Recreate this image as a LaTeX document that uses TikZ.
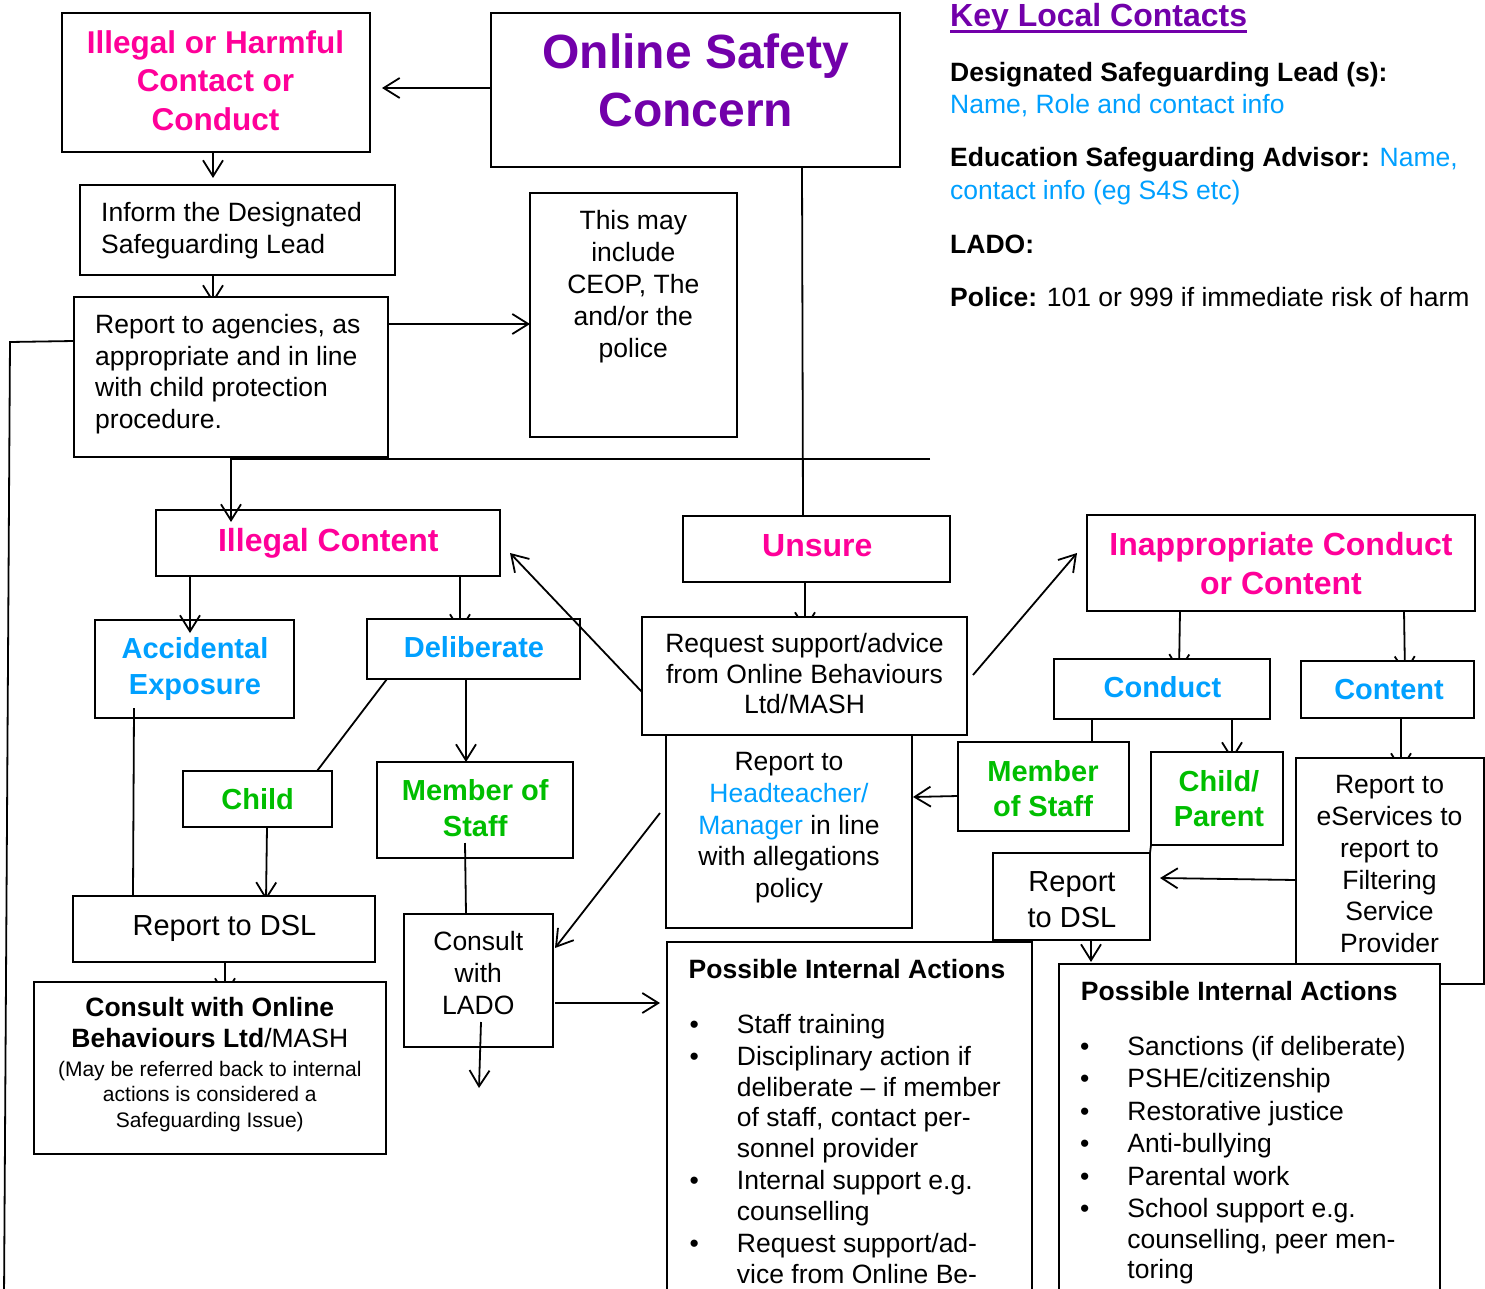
\documentclass[tikz,border=0pt]{standalone}
\usepackage{fontspec}
\setmainfont{Liberation Sans}
\usetikzlibrary{arrows.meta,calc}
\definecolor{pinkc}{RGB}{255,0,153}
\definecolor{purplec}{RGB}{114,0,170}
\definecolor{bluec}{RGB}{0,160,255}
\definecolor{greenc}{RGB}{0,190,0}
\pgfdeclarelayer{back}
\pgfdeclarelayer{bg}
\pgfsetlayers{back,bg,main}
\newcommand{\MLc}[1]{\begin{tabular}[t]{@{}c@{}}#1\end{tabular}}
\newcommand{\MLl}[1]{\begin{tabular}[t]{@{}l@{}}#1\end{tabular}}
\newcommand{\FS}[2]{\fontsize{#1}{#2}\selectfont}
\tikzset{
  box/.style={draw, line width=2.2pt, fill=white, inner sep=0pt, outer sep=0pt},
  txt/.style={inner sep=0pt, anchor=base},
  txtl/.style={inner sep=0pt, anchor=base west},
  conn/.style={line width=1.8pt},
  arr/.style={conn, -{Straight Barb[length=16pt,width=20pt]}},
}
\begin{document}
\begin{tikzpicture}[x=1pt,y=-1pt]
\useasboundingbox (0,0) rectangle (1485,1289);
\begin{pgfonlayer}{back}
\fill[white] (0,0) rectangle (1485,1289);
\end{pgfonlayer}
\clip (0,0) rectangle (1485,1289);

% boxes
\node[box, minimum width=308pt, minimum height=139pt] (ihc) at (216,82.5) {};
\node[box, minimum width=409pt, minimum height=154pt] (osc) at (695.5,90) {};
\node[box, minimum width=315pt, minimum height=90pt] (inf) at (237.5,230) {};
\node[box, minimum width=314pt, minimum height=160pt] (rep) at (231,377) {};
\node[box, minimum width=207pt, minimum height=244pt] (may) at (633.5,315) {};
\node[box, minimum width=344pt, minimum height=66pt] (ilc) at (328,543) {};
\node[box, minimum width=199pt, minimum height=98pt] (acc) at (194.5,669) {};
\node[box, minimum width=213pt, minimum height=60pt] (del) at (473.5,649) {};
\node[box, minimum width=149pt, minimum height=56pt] (chd) at (257.5,799) {};
\node[box, minimum width=196pt, minimum height=96pt] (mos1) at (475,810) {};
\node[box, minimum width=302pt, minimum height=66pt] (dsl1) at (224,929) {};
\node[box, minimum width=352pt, minimum height=172pt] (cob) at (210,1068) {};
\node[box, minimum width=149pt, minimum height=133pt] (lado) at (478.5,980.5) {};
\node[box, minimum width=267pt, minimum height=66pt] (uns) at (816.5,549) {};
\node[box, minimum width=325pt, minimum height=118pt] (req) at (804.5,676) {};
\node[box, minimum width=388pt, minimum height=96pt] (inap) at (1281,563) {};
\node[box, minimum width=216pt, minimum height=60pt] (cdt) at (1162,689) {};
\node[box, minimum width=173pt, minimum height=57pt] (cnt) at (1387.5,689.5) {};
\node[box, minimum width=246pt, minimum height=193pt] (head) at (789,831.5) {};
\node[box, minimum width=171pt, minimum height=89pt] (mos2) at (1043.5,786.5) {};
\node[box, minimum width=132pt, minimum height=93pt] (cp) at (1217,798.5) {};
\node[box, minimum width=157pt, minimum height=87pt] (dsl2) at (1071.5,896.5) {};
\node[box, minimum width=188pt, minimum height=226pt] (eserv) at (1390,871) {};
\node[box, minimum width=365pt, minimum height=378pt] (pia1) at (849.5,1131) {};
\node[box, minimum width=381pt, minimum height=356pt] (pia2) at (1249.5,1142) {};

% texts
\node[txt, text=pinkc, font=\bfseries\FS{31.5}{38.3}] (ihcT) at (215.5,53.5) {\MLc{Illegal or Harmful\\Contact or\\Conduct}};
\node[txt, text=purplec, font=\bfseries\FS{48}{58.4}] (oscT) at (695.8,68.3) {\MLc{Online Safety\\Concern}};
\node[txtl, font=\FS{26.5}{32}] (infT) at (101,221.7) {\MLl{Inform the Designated\\Safeguarding Lead}};
\node[txtl, font=\FS{26.5}{31.7}] (repT) at (95,333.3) {\MLl{Report to agencies, as\\appropriate and in line\\with child protection\\procedure.}};
\node[txt, font=\FS{26.5}{32}] (mayT) at (633.3,229.3) {\MLc{This may\\include\\CEOP, The\\and/or the\\police}};
\node[txt, text=pinkc, font=\bfseries\FS{32}{38}] (ilcT) at (328.3,551) {Illegal Content};
\node[txt, text=bluec, font=\bfseries\FS{29}{36}] (accT) at (195,658.3) {\MLc{Accidental\\Exposure}};
\node[txt, text=bluec, font=\bfseries\FS{29}{36}] (delT) at (474,657.3) {Deliberate};
\node[txt, text=greenc, font=\bfseries\FS{29}{36}] (chdT) at (257.6,809.3) {Child};
\node[txt, text=greenc, font=\bfseries\FS{29}{36}] (mos1T) at (475.2,800) {\MLc{Member of\\Staff}};
\node[txt, font=\FS{29}{35}] (dsl1T) at (224.5,935) {Report to DSL};
\node[txt, font=\FS{26.5}{31.7}] (cobT1) at (209.8,1016) {\MLc{\textbf{Consult with Online}\\\textbf{Behaviours Ltd}/MASH}};
\node[txt, font=\FS{21}{25.7}] (cobT2) at (209.8,1076) {\MLc{(May be referred back to internal\\actions is considered a\\Safeguarding Issue)}};
\node[txt, font=\FS{26.5}{32.2}] (ladoT) at (478.3,950) {\MLc{Consult\\with\\LADO}};
\node[txt, text=pinkc, font=\bfseries\FS{32}{38}] (unsT) at (817.3,556.7) {Unsure};
\node[txt, font=\FS{26.5}{30.3}] (reqT) at (804.5,652.7) {\MLc{Request support/advice\\from Online Behaviours\\Ltd/MASH}};
\node[txt, text=pinkc, font=\bfseries\FS{32}{39}] (inapT) at (1281,555) {\MLc{Inappropriate Conduct\\or Content}};
\node[txt, text=bluec, font=\bfseries\FS{29}{36}] (cdtT) at (1162.4,697.3) {Conduct};
\node[txt, text=bluec, font=\bfseries\FS{29}{36}] (cntT) at (1389,699.3) {Content};
\node[txt, font=\FS{26.5}{31.7}] (headT) at (789,770.7) {\MLc{Report to\\{\color{bluec}Headteacher/}\\{\color{bluec}Manager} in line\\with allegations\\policy}};
\node[txt, text=greenc, font=\bfseries\FS{29}{35}] (mos2T) at (1043,781.7) {\MLc{Member\\of Staff}};
\node[txt, text=greenc, font=\bfseries\FS{29}{35.7}] (cpT) at (1219,791) {\MLc{Child/\\Parent}};
\node[txt, font=\FS{29}{36}] (dsl2T) at (1072,891.7) {\MLc{Report\\to DSL}};
\node[txt, font=\FS{26.5}{31.9}] (eservT) at (1389.5,793.3) {\MLc{Report to\\eServices to\\report to\\Filtering\\Service\\Provider}};
\node[txtl, font=\bfseries\FS{26.5}{32}] (pia1H) at (688.5,978.3) {Possible Internal Actions};
\node[txtl, font=\FS{26.5}{30.5}] (pia1L) at (689.5,1033.3) {\begin{tabular}[t]{@{}l@{\hspace{38pt}}l@{}}
\textbullet & Staff training\\[2pt]
\textbullet & Disciplinary action if\\
 & deliberate \textendash{} if member\\
 & of staff, contact per-\\
 & sonnel provider\\[2pt]
\textbullet & Internal support e.g.\\
 & counselling\\[2pt]
\textbullet & Request support/ad-\\
 & vice from Online Be-
\end{tabular}};
\node[txtl, font=\bfseries\FS{26.5}{32}] (pia2H) at (1080.7,1000) {Possible Internal Actions};
\node[txtl, font=\FS{26.5}{30.5}] (pia2L) at (1080,1055) {\begin{tabular}[t]{@{}l@{\hspace{38pt}}l@{}}
\textbullet & Sanctions (if deliberate)\\[2pt]
\textbullet & PSHE/citizenship\\[2pt]
\textbullet & Restorative justice\\[2pt]
\textbullet & Anti-bullying\\[2pt]
\textbullet & Parental work\\[2pt]
\textbullet & School support e.g.\\
 & counselling, peer men-\\
 & toring
\end{tabular}};

% key local contacts
\node[txtl, text=purplec, font=\bfseries\FS{32}{38}] (kc1) at (950,27) {Key Local Contacts};
\draw[purplec, line width=3pt] ($(kc1.base west)+(0,4.5)$) -- ($(kc1.base east)+(0,4.5)$);
\node[txtl, font=\bfseries\FS{26.5}{32}] (kc2) at (950,81.7) {Designated Safeguarding Lead (s):};
\node[txtl, text=bluec, font=\FS{26.5}{32}] (kc3) at (950,113.3) {Name, Role and contact info};
\node[txtl, font=\FS{26.5}{32}] (kc4) at (950,166.7) {\textbf{Education Safeguarding Advisor:} {\color{bluec}Name,}};
\node[txtl, text=bluec, font=\FS{26.5}{32}] (kc5) at (950,199.3) {contact info (eg S4S etc)};
\node[txtl, font=\bfseries\FS{26.5}{32}] (kc6) at (950,253.3) {LADO:};
\node[txtl, font=\FS{26.5}{32}] (kc7) at (950,306) {\textbf{Police:} 101 or 999 if immediate risk of harm};

% free-end coordinates
\coordinate (lc) at (10,342);
\coordinate (lb) at (4,1300);
\coordinate (hr) at (930,459);
\coordinate (ldown) at (479,1088);

% connectors (visible)
\draw[arr] ($(osc.north west)+(0,75)$) -- ($(ihc.north east)+(12,75)$);
\draw[arr] ($(ihc.south west)+(151,0)$) -- ($(inf.north west)+(133,-7)$);
\draw[arr] ($(rep.north east)+(0,27)$) -- ($(may.north west)+(0,131)$);
\draw[conn] ($(rep.north west)+(0,44)$) -- (lc) -- (lb);
\draw[conn] ($(osc.south west)+(311,0)$) -- ($(uns.north west)+(120,0)$);
\draw[arr] (hr) -| ($(ilc.north west)+(75,12)$);
\draw[arr] ($(ilc.south west)+(34,0)$) -- ($(acc.north west)+(95,13)$);
\draw[conn] ($(del.south west)+(20,0)$) -- ($(chd.north west)+(134,0)$);
\draw[arr] ($(del.south west)+(99,0)$) -- ($(mos1.north west)+(89,0)$);
\draw[conn] ($(acc.south west)+(39,-10)$) -- ($(dsl1.north west)+(60,0)$);
\draw[conn] ($(mos1.south west)+(88,-15)$) -- ($(lado.north west)+(62,0)$);
\draw[arr] ($(lado.north west)+(77,108)$) -- (ldown);
\draw[arr] ($(lado.north east)+(2,89)$) -- ($(pia1.north west)+(-7,61)$);
\draw[arr] ($(head.north west)+(-6,78)$) -- ($(lado.north east)+(2,34)$);
\draw[arr] ($(req.north west)+(0,75)$) -- ($(ilc.north east)+(10,43)$);
\draw[arr] ($(req.north east)+(6,58)$) -- ($(inap.north west)+(-10,38)$);
\draw[conn] ($(cdt.south west)+(38,0)$) -- ($(mos2.north west)+(134,0)$);
\draw[arr] ($(mos2.north west)+(0,54)$) -- ($(head.north east)+(1,62)$);
\draw[conn] (cp.south west) -- (dsl2.north east);
\draw[arr] ($(eserv.north west)+(0,122)$) -- ($(dsl2.north east)+(10,25)$);
\draw[arr] ($(dsl2.south west)+(98,0)$) -- ($(pia2.north west)+(32,-2)$);

% connectors whose tips sit behind boxes
\begin{pgfonlayer}{bg}
\draw[arr] ($(inf.south west)+(133,0)$) -- ($(rep.north west)+(139,6)$);
\draw[arr] ($(ilc.south west)+(304,0)$) -- ($(del.north west)+(93,13)$);
\draw[arr] ($(chd.south west)+(84,0)$) -- ($(dsl1.north west)+(193,4)$);
\draw[arr] ($(dsl1.south west)+(152,0)$) -- ($(cob.north west)+(191,14)$);
\draw[arr] ($(uns.south west)+(122,0)$) -- ($(req.north west)+(163,13)$);
\draw[arr] ($(inap.south west)+(93,0)$) -- ($(cdt.north west)+(125,13)$);
\draw[arr] ($(inap.south west)+(317,0)$) -- ($(cnt.north west)+(104,13)$);
\draw[arr] ($(cdt.south west)+(178,0)$) -- ($(cp.north west)+(81,8)$);
\draw[arr] ($(cnt.south west)+(100,0)$) -- ($(eserv.north west)+(105,13)$);
\end{pgfonlayer}
\end{tikzpicture}
\end{document}
